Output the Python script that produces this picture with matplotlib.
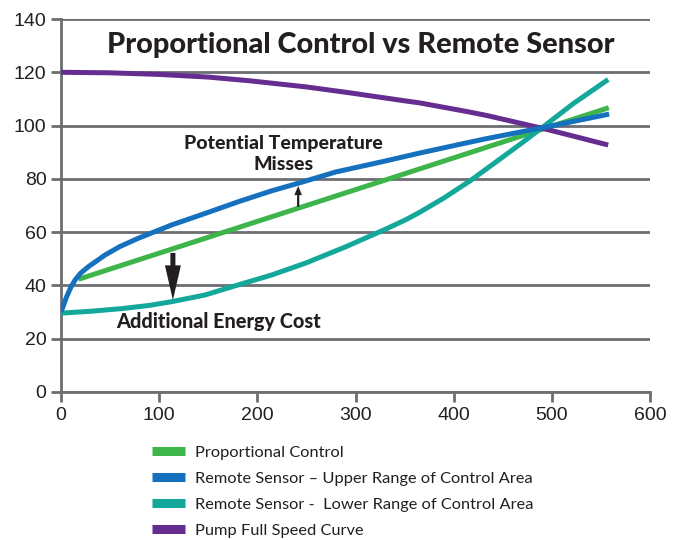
import matplotlib
matplotlib.use("Agg")
import matplotlib.pyplot as plt
from matplotlib.lines import Line2D

# Data
prop_x = [17.7, 558]
prop_y = [42.3, 106.7]

upper_x = [0, 5.8, 10, 14.3, 20, 27.8, 44.8, 60, 78.7, 112.7, 146.6, 180.5, 214.5,
           243, 280, 328, 365.6, 413, 433.5, 494.6, 558.4]
upper_y = [30, 35.8, 39.3, 42, 44.6, 47, 51.4, 54.6, 57.7, 62.7, 67, 71.4, 75.5,
           78.5, 82.6, 86.5, 89.7, 93.5, 95.1, 99.5, 104.3]

lower_x = [0, 30, 61.8, 90, 112.7, 146.6, 180.5, 214.5, 250, 290, 330, 352, 365.6,
           390, 416.5, 440, 467, 494.6, 521.7, 557.4]
lower_y = [29.6, 30.3, 31.3, 32.5, 33.9, 36.4, 40.2, 43.9, 48.5, 54.5, 61, 64.8, 67.5,
           72.8, 79.2, 85.5, 92.8, 100.5, 108.2, 117.3]

pump_x = [0, 50, 100, 150, 192.5, 250, 294, 350, 365.6, 413, 433.5, 494.6, 557.4]
pump_y = [120, 119.8, 119.2, 118.2, 116.8, 114.5, 112.3, 109.3, 108.5, 105.3, 103.8,
          98.6, 92.7]

xticks = [0, 100, 200, 300, 400, 500, 600]
yticks = [0, 20, 40, 60, 80, 100, 120, 140]

labels = ["Proportional Control",
          "Remote Sensor \u2013 Upper Range of Control Area",
          "Remote Sensor -  Lower Range of Control Area",
          "Pump Full Speed Curve"]
colors = ["#3db54a", "#1570be", "#14a89a", "#662d91"]

fig = plt.figure(figsize=(6.84, 5.40), dpi=100)
ax = fig.add_axes([61/684, 1-392/540, (650-61)/684, (392-19)/540])

grid_c = "#6d6e71"
txt_c = "#231f20"
ax.set_xlim(0, 600)
ax.set_ylim(0, 140)
ax.set_xticks(xticks)
ax.set_yticks(yticks)
ax.yaxis.grid(True, color=grid_c, linewidth=2)
ax.set_axisbelow(True)
for s in ["top", "right"]:
    ax.spines[s].set_visible(False)
for s in ["left", "bottom"]:
    ax.spines[s].set_color(grid_c)
    ax.spines[s].set_linewidth(2)
ax.tick_params(axis="both", colors=grid_c, width=2, length=7, labelsize=14,
               labelcolor=txt_c)
for lab in ax.get_xticklabels() + ax.get_yticklabels():
    lab.set_family("Liberation Sans")

lw = 3.6
ax.plot(prop_x, prop_y, color=colors[0], lw=lw, solid_capstyle="butt",
        solid_joinstyle="round", zorder=3)
ax.plot(lower_x, lower_y, color=colors[2], lw=lw, solid_capstyle="butt",
        solid_joinstyle="round", zorder=3)
ax.plot(upper_x, upper_y, color=colors[1], lw=lw, solid_capstyle="butt",
        solid_joinstyle="round", zorder=4)
ax.plot(pump_x, pump_y, color=colors[3], lw=lw, solid_capstyle="butt",
        solid_joinstyle="round", zorder=3)

ax.text(305, 130.4, "Proportional Control vs Remote Sensor", ha="center", va="center",
        fontsize=20.8, fontweight="black", family="Lato", color=txt_c)
ax.text(227, 93.4, "Potential Temperature", ha="center", va="center",
        fontsize=14, fontweight="black", family="Lato", color=txt_c)
ax.text(227, 85.4, "Misses", ha="center", va="center",
        fontsize=14, fontweight="black", family="Lato", color=txt_c)
ax.text(160, 26.3, "Additional Energy Cost", ha="center", va="center",
        fontsize=14.3, fontweight="black", family="Lato", color=txt_c)

ax.annotate("", xy=(241.6, 77.3), xytext=(241.6, 69.5),
            arrowprops=dict(arrowstyle="simple,head_length=0.65,head_width=0.55,tail_width=0.16",
                            color=txt_c, lw=0, shrinkA=0, shrinkB=0, mutation_scale=10))
ax.annotate("", xy=(114, 34.5), xytext=(114, 52.2),
            arrowprops=dict(arrowstyle="simple,head_length=2.5,head_width=1.15,tail_width=0.36",
                            color=txt_c, lw=0, shrinkA=0, shrinkB=0, mutation_scale=10))

handles = [Line2D([0], [0], color=c, lw=6.5, solid_capstyle="butt") for c in colors]
leg = fig.legend(handles, labels, loc="upper left", bbox_to_anchor=(137/684, 1-431/540),
                 frameon=False, handlelength=2.0, handletextpad=0.61, labelspacing=0.7,
                 prop={"family": "Lato", "size": 11.8})
for t in leg.get_texts():
    t.set_color(txt_c)

fig.savefig("out.png", dpi=100)
